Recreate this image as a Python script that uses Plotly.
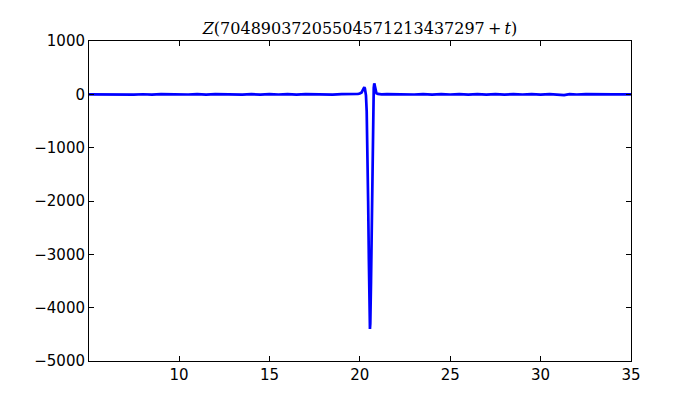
import plotly.graph_objects as go

# Flat background part (t, Z)
t_left = [5.02, 5.5, 6.0, 6.5, 7.0, 7.5, 8.0, 8.5, 9.0, 9.5, 10.0, 10.5, 11.0, 11.5, 12.0, 12.5,
          13.0, 13.5, 14.0, 14.5, 15.0, 15.5, 16.0, 16.5, 17.0, 17.5, 18.0, 18.5, 19.0, 19.5, 19.8]
z_left = [1, -2, 2, -3, 2, -4, 2, -5, 3, -2, 4, -3, 5, -4, 3, -3, 4, -5, 3, -4, 5, -3, 4,
          -4, 3, -3, 4, -4, 3, -2, 4]

# Spike region
t_mid = [19.9, 20.0, 20.1, 20.15, 20.2, 20.25, 20.28, 20.31, 20.34, 20.38, 20.42, 20.46, 20.5,
         20.54, 20.56, 20.58, 20.62, 20.66, 20.7, 20.74, 20.77, 20.8, 20.84, 20.88, 20.92, 21.0, 21.2]
z_mid = [8, 15, 35, 70, 110, 135, 110, 50, -20, -320, -1000, -2000, -3100,
         -4100, -4400, -4300, -3500, -2300, -1000, -100, 120, 205, 150, 60, 20, 8, -2]

t_right = [21.5, 22.0, 22.5, 23.0, 23.5, 24.0, 24.5, 25.0, 25.5, 26.0, 26.5, 27.0, 27.5, 28.0,
           28.5, 29.0, 29.5, 30.0, 30.5, 31.0, 31.3, 31.6, 32.0, 32.5, 33.0, 33.5, 34.0, 34.5, 35.0]
z_right = [3, -3, 4, -3, 4, -5, 4, -3, 5, -4, 3, -4, 5, -5, 4, -3, 5, -6, 4, -4, -15,
           3, -3, 4, -2, 3, -2, 2, -1]

t_vals = t_left + t_mid + t_right
z_vals = z_left + z_mid + z_right

x_ticks = [10, 15, 20, 25, 30, 35]
y_ticks = [1000, 0, -1000, -2000, -3000, -4000, -5000]

fig = go.Figure()
fig.add_trace(go.Scatter(x=t_vals, y=z_vals, mode="lines",
                         line=dict(color="#0000ff", width=2.7)))

axis_common = dict(showline=True, linecolor="black", linewidth=1, mirror="ticks",
                   ticks="inside", ticklen=5, tickcolor="black", showgrid=False,
                   zeroline=False, tickfont=dict(family="DejaVu Sans", size=15, color="black"))

fig.update_xaxes(range=[5.02, 35], tickvals=x_ticks, ticktext=[str(v) for v in x_ticks],
                 **axis_common)
fig.update_yaxes(range=[-5000, 1000], tickvals=y_ticks, **axis_common)

fig.update_layout(
    width=700, height=400,
    margin=dict(l=81, r=77, t=33, b=47),
    paper_bgcolor="white", plot_bgcolor="white",
    showlegend=False,
    title=dict(text="<i>Z</i>(70489037205504571213437297\u2009+\u2009<i>t</i>)",
               x=(81 + 623) / 2 / 700, xanchor="center", y=1 - 20 / 400, yanchor="middle",
               font=dict(family="DejaVu Serif", size=16, color="black")),
)

fig.write_html("out.html")
